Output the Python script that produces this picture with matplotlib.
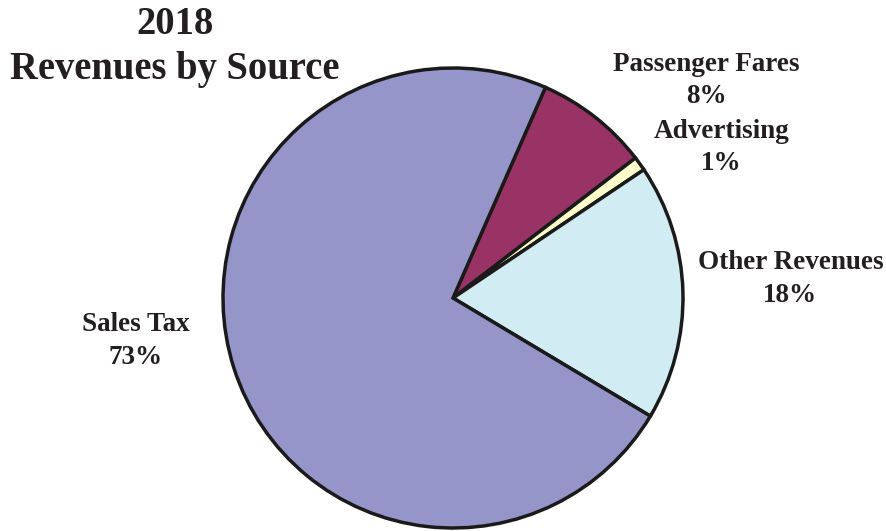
import matplotlib
matplotlib.use("Agg")
import matplotlib.pyplot as plt

# 2018 revenue shares (percent), drawn clockwise from Passenger Fares
sources = ["Passenger Fares", "Advertising", "Other Revenues", "Sales Tax"]
shares = [8, 1, 18, 73]
colors = ["#993366", "#FFFFCC", "#D2ECF3", "#9595C9"]

# label anchor points in data units (pie radius = 1)
label_pos = [(1.10, 0.945), (1.168, 0.655), (1.467, 0.083), (-1.378, -0.187)]

plt.rcParams["font.family"] = ["Liberation Serif", "DejaVu Serif"]
plt.rcParams["font.weight"] = "bold"

fig = plt.figure(figsize=(8.87, 5.31), dpi=100)
ax = fig.add_axes([0.2514, 0.00565, 0.5186, 0.8663])

ax.pie(shares, colors=colors, startangle=66.3, counterclock=False,
       wedgeprops=dict(edgecolor="#1a1a1a", linewidth=2.5))
ax.set_xlim(-1, 1)
ax.set_ylim(-1, 1)
ax.set_aspect("equal")
ax.axis("off")

for name, pct, (x, y) in zip(sources, shares, label_pos):
    ax.text(x, y, f"{name}\n{pct}%", ha="center", va="center",
            fontsize=19.5, fontweight="bold", linespacing=1.4,
            color="#231f20", clip_on=False)

fig.text(175 / 887, 1 - 47 / 531, "2018\nRevenues by Source", ha="center",
         va="center", fontsize=27.8, fontweight="bold", linespacing=1.25,
         color="#231f20")

fig.savefig("out.png", dpi=100)
